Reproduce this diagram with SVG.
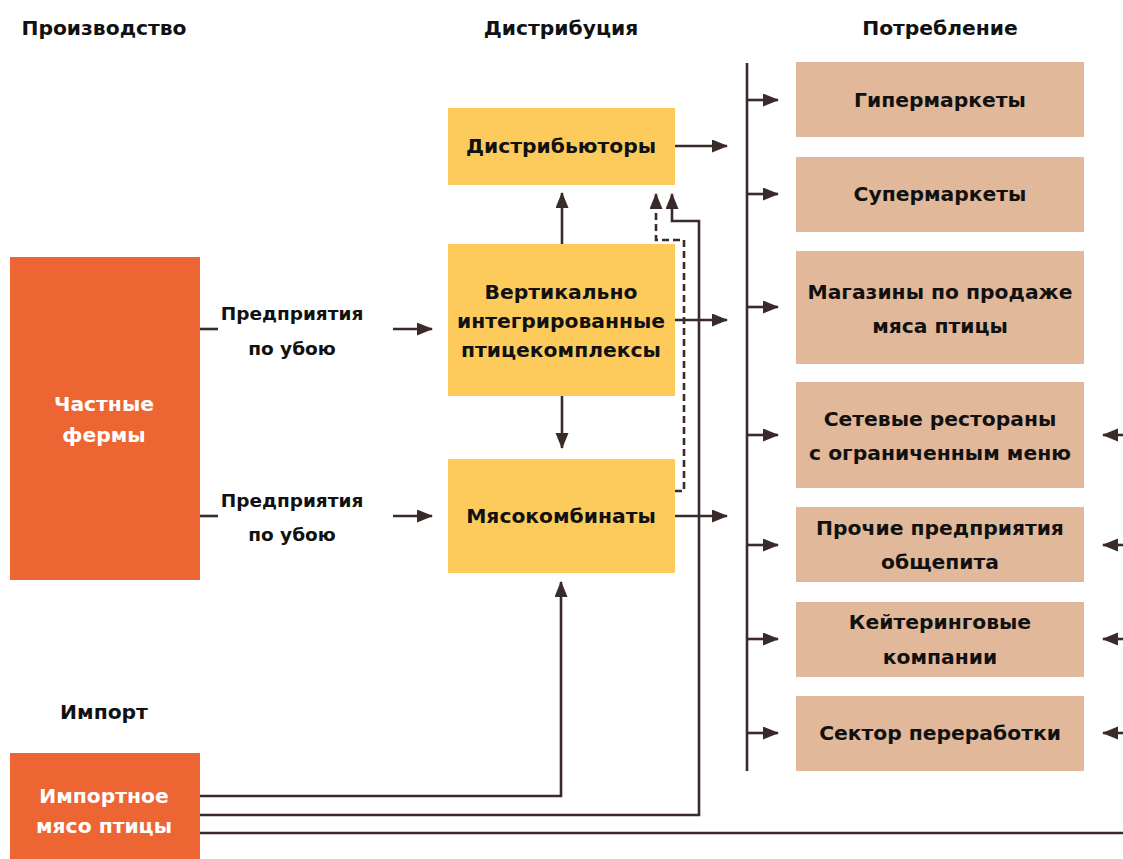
<svg xmlns="http://www.w3.org/2000/svg" width="1123" height="859" viewBox="0 0 1123 859">
<defs>
<marker id="ah" markerUnits="userSpaceOnUse" markerWidth="16" markerHeight="14" refX="15" refY="6.5" orient="auto"><path d="M0,0 L16,6.5 L0,13 z" fill="#3A2A2A"/></marker>
</defs>
<style>
text{font-family:"DejaVu Sans","Liberation Sans",sans-serif;font-weight:bold;font-size:20.3px;text-anchor:middle;fill:#111}
.s{font-size:18.5px}
.w{fill:#fff}
.prod{fill:#EC6533}
.dist{fill:#FDCB5C}
.cons{fill:#E1B899}
.c{stroke:#3A2A2A;stroke-width:2.6;fill:none}
.a{marker-end:url(#ah)}
.d{stroke-dasharray:7,4}
</style>
<rect width="1123" height="859" fill="#fff"/>
<g id="headers">
<text x="104" y="35">Производство</text>
<text x="561" y="35">Дистрибуция</text>
<text x="940" y="35">Потребление</text>
<text x="104" y="719">Импорт</text>
</g>
<g id="connectors">
<line class="c" x1="747" y1="63" x2="747" y2="771"/>
<line class="c a" x1="747" y1="100" x2="778" y2="100"/>
<line class="c a" x1="747" y1="194" x2="778" y2="194"/>
<line class="c a" x1="747" y1="307" x2="778" y2="307"/>
<line class="c a" x1="747" y1="435" x2="778" y2="435"/>
<line class="c a" x1="747" y1="545" x2="778" y2="545"/>
<line class="c a" x1="747" y1="639" x2="778" y2="639"/>
<line class="c a" x1="747" y1="733" x2="778" y2="733"/>
<line class="c a" x1="1123" y1="435" x2="1103" y2="435"/>
<line class="c a" x1="1123" y1="545" x2="1103" y2="545"/>
<line class="c a" x1="1123" y1="639" x2="1103" y2="639"/>
<line class="c a" x1="1123" y1="733" x2="1103" y2="733"/>
<line class="c a" x1="675" y1="146" x2="727" y2="146"/>
<line class="c a" x1="675" y1="320" x2="727" y2="320"/>
<line class="c a" x1="675" y1="516" x2="727" y2="516"/>
<line class="c a" x1="562" y1="244" x2="562" y2="193"/>
<line class="c a" x1="562" y1="396" x2="562" y2="448"/>
<line class="c" x1="200" y1="329" x2="218" y2="329"/>
<line class="c a" x1="393" y1="329" x2="432" y2="329"/>
<line class="c" x1="200" y1="516" x2="218" y2="516"/>
<line class="c a" x1="393" y1="516" x2="432" y2="516"/>
<polyline class="c d a" points="675,491 684,491 684,240 656,240 656,194"/>
<polyline class="c a" points="200,796 561,796 561,582"/>
<polyline class="c a" points="200,815 699,815 699,221 672,221 672,194"/>
<line class="c" x1="200" y1="833" x2="1123" y2="833"/>
</g>
<g id="farms"><rect class="prod" x="10" y="257" width="190" height="323"/><text class="w" x="104" y="411">Частные</text><text class="w" x="104" y="442">фермы</text></g>
<g id="import"><rect class="prod" x="10" y="753" width="190" height="106"/><text class="w" x="104" y="803">Импортное</text><text class="w" x="104" y="833">мясо птицы</text></g>
<g id="slaughter1"><text class="s" x="292" y="320">Предприятия</text><text class="s" x="292" y="355">по убою</text></g>
<g id="slaughter2"><text class="s" x="292" y="507">Предприятия</text><text class="s" x="292" y="541">по убою</text></g>
<g id="distributors"><rect class="dist" x="448" y="108" width="227" height="77"/><text x="561" y="153">Дистрибьюторы</text></g>
<g id="vertical"><rect class="dist" x="448" y="244" width="227" height="152"/><text x="561" y="299">Вертикально</text><text x="561" y="328">интегрированные</text><text x="561" y="357">птицекомплексы</text></g>
<g id="meat"><rect class="dist" x="448" y="459" width="227" height="114"/><text x="561" y="523">Мясокомбинаты</text></g>
<g id="hyper"><rect class="cons" x="796" y="62" width="288" height="75"/><text x="940" y="107">Гипермаркеты</text></g>
<g id="super"><rect class="cons" x="796" y="157" width="288" height="75"/><text x="940" y="201">Супермаркеты</text></g>
<g id="shops"><rect class="cons" x="796" y="251" width="288" height="113"/><text x="940" y="299">Магазины по продаже</text><text x="940" y="333">мяса птицы</text></g>
<g id="chains"><rect class="cons" x="796" y="382" width="288" height="106"/><text x="940" y="426">Сетевые рестораны</text><text x="940" y="460">с ограниченным меню</text></g>
<g id="catering-other"><rect class="cons" x="796" y="507" width="288" height="75"/><text x="940" y="535">Прочие предприятия</text><text x="940" y="569">общепита</text></g>
<g id="catering"><rect class="cons" x="796" y="602" width="288" height="75"/><text x="940" y="629">Кейтеринговые</text><text x="940" y="664">компании</text></g>
<g id="processing"><rect class="cons" x="796" y="696" width="288" height="75"/><text x="940" y="740">Сектор переработки</text></g>
</svg>
